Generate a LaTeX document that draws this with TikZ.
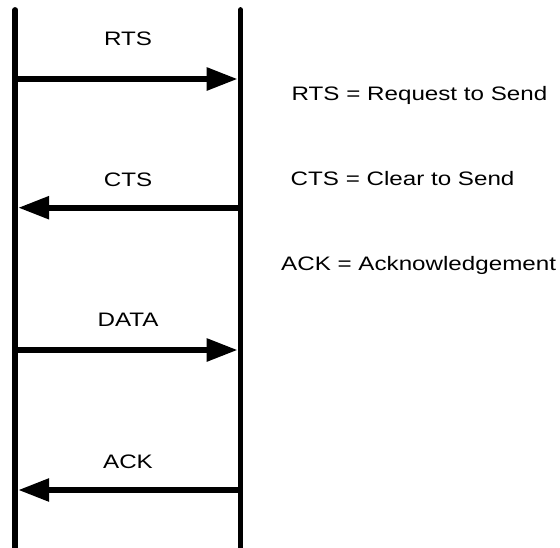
\documentclass[tikz,border=0pt]{standalone}
\usepackage{fontspec}
\setmainfont[FakeStretch=1.24]{Liberation Sans}
\usetikzlibrary{arrows.meta}
\begin{document}
\begin{tikzpicture}[x=1pt,y=-1pt,
  lifeline/.style={line width=5.8pt,line cap=round},
  msg/.style={line width=5.8pt,-{Triangle[length=31pt,width=22pt]},shorten >=2.9pt},
  lbl/.style={font=\fontsize{19.5}{22}\selectfont,inner sep=0pt,anchor=base},
  legend/.style={font=\fontsize{19.5}{22}\selectfont,inner sep=0pt,anchor=base west}]
\useasboundingbox (0,0) rectangle (560,547);
\coordinate (Atop) at (15.3,10);
\coordinate (Abot) at (15.3,549);
\coordinate (Btop) at (240.5,10);
\coordinate (Bbot) at (240.5,549);
\draw[lifeline] (Atop) -- (Abot);
\draw[lifeline] (Btop) -- (Bbot);
% message end points
\coordinate (A1) at (15.3,79);   \coordinate (B1) at (240.5,79);
\coordinate (A2) at (15.3,207.7); \coordinate (B2) at (240.5,207.7);
\coordinate (A3) at (15.3,350);  \coordinate (B3) at (240.5,350);
\coordinate (A4) at (15.3,490);  \coordinate (B4) at (240.5,490);
\draw[msg] (A1) -- (B1);
\draw[msg] (B2) -- (A2);
\draw[msg] (A3) -- (B3);
\draw[msg] (B4) -- (A4);
\node[lbl] (rts) at (128,45.7) {RTS};
\node[lbl] (cts) at (128,186) {CTS};
\node[lbl] (data) at (128,326.7) {DATA};
\node[lbl] (ack) at (128,468.3) {ACK};
\node[legend] (l1) at (291.5,100.7) {RTS = Request to Send};
\node[legend] (l2) at (290.5,185) {CTS = Clear to Send};
\node[legend] (l3) at (281,270) {ACK = Acknowledgement};
\end{tikzpicture}
\end{document}
